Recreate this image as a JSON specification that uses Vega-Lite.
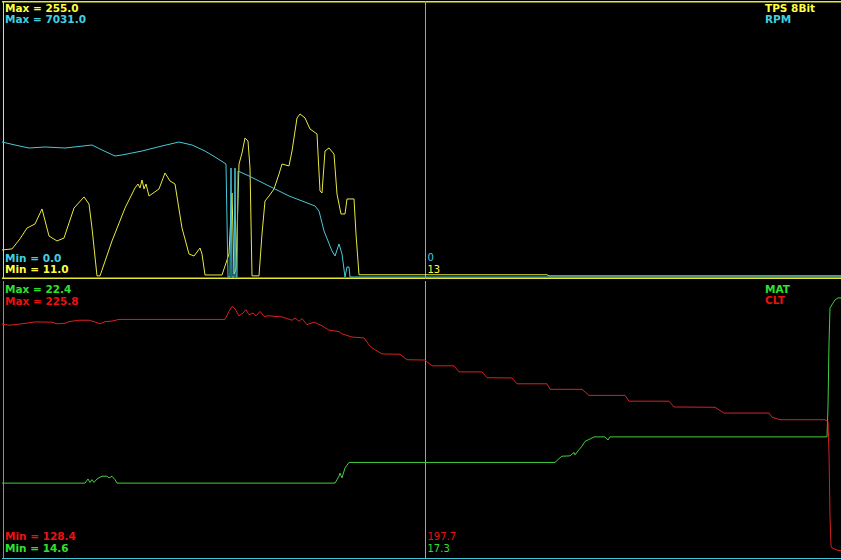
{
  "$schema": "https://vega.github.io/schema/vega-lite/v6.json",
  "background": "#000000",
  "padding": 0,
  "spacing": 0,
  "config": {"view": {"stroke": null}, "concat": {"spacing": 0}},
  "datasets": {
    "one": [{}],
    "tps": [
      {"t":0,"v":35.1},{"t":10,"v":36.0},{"t":18,"v":45},{"t":25,"v":54.6},{"t":33,"v":58.2},{"t":40,"v":71.6},{"t":47,"v":47.5},{"t":55,"v":43.1},{"t":62,"v":45.7},{"t":72,"v":72.4},{"t":82,"v":82.3},{"t":87,"v":76.0},{"t":90,"v":54.6},{"t":95,"v":12},{"t":98,"v":12},{"t":110,"v":43.1},{"t":123,"v":72.4},{"t":133,"v":90.3},{"t":136,"v":93.8},{"t":138,"v":90.3},{"t":140,"v":97.4},{"t":142,"v":89.4},{"t":144,"v":93.8},{"t":147,"v":83.1},{"t":157,"v":89.4},{"t":163,"v":103.6},{"t":168,"v":96.5},{"t":173,"v":93.8},{"t":180,"v":54.6},{"t":187,"v":31.5},{"t":192,"v":29.7},{"t":198,"v":36.8},{"t":200,"v":31.5},{"t":203,"v":12.8},{"t":220,"v":12.8},{"t":227,"v":31.5},{"t":230,"v":85.8},{"t":232,"v":13.7},{"t":234,"v":18.1},{"t":237,"v":111.6},{"t":240,"v":121.4},{"t":243,"v":134.8},{"t":246,"v":132.1},{"t":248,"v":108.1},{"t":250,"v":12},{"t":257,"v":12},{"t":260,"v":49.3},{"t":263,"v":78.7},{"t":267,"v":83.1},{"t":272,"v":89.4},{"t":277,"v":102.7},{"t":280,"v":111.6},{"t":287,"v":109.9},{"t":290,"v":123.2},{"t":295,"v":152.6},{"t":298,"v":156.2},{"t":303,"v":152.6},{"t":308,"v":142.8},{"t":315,"v":138.4},{"t":318,"v":87.6},{"t":320,"v":85.8},{"t":323,"v":123.2},{"t":327,"v":125.9},{"t":332,"v":120.5},{"t":335,"v":84.9},{"t":339,"v":67.1},{"t":343,"v":67.1},{"t":345,"v":80.5},{"t":352,"v":80.5},{"t":354,"v":49.3},{"t":357,"v":13},{"t":545,"v":13},{"t":547,"v":12},{"t":841,"v":12}
    ],
    "rpm": [
      {"t":0,"v":3464},{"t":13,"v":3387},{"t":27,"v":3310},{"t":43,"v":3336},{"t":63,"v":3310},{"t":90,"v":3387},{"t":100,"v":3259},{"t":113,"v":3105},{"t":120,"v":3131},{"t":140,"v":3233},{"t":160,"v":3362},{"t":177,"v":3464},{"t":190,"v":3387},{"t":203,"v":3233},{"t":213,"v":3080},{"t":224,"v":2900},{"t":226,"v":0},{"t":228,"v":0},{"t":229,"v":2797},{"t":230,"v":0},{"t":232,"v":0},{"t":233,"v":2797},{"t":234,"v":0},{"t":235,"v":0},{"t":236,"v":2720},{"t":247,"v":2592},{"t":267,"v":2335},{"t":287,"v":2079},{"t":313,"v":1822},{"t":317,"v":1694},{"t":322,"v":1181},{"t":330,"v":667},{"t":333,"v":539},{"t":337,"v":847},{"t":340,"v":590},{"t":343,"v":0},{"t":345,"v":257},{"t":347,"v":257},{"t":348,"v":0},{"t":841,"v":0}
    ],
    "mat": [
      {"t":0,"v":16.60},{"t":83,"v":16.60},{"t":86,"v":16.72},{"t":88,"v":16.62},{"t":90,"v":16.70},{"t":92,"v":16.62},{"t":95,"v":16.72},{"t":100,"v":16.80},{"t":105,"v":16.80},{"t":107,"v":16.75},{"t":110,"v":16.80},{"t":113,"v":16.70},{"t":115,"v":16.60},{"t":333,"v":16.60},{"t":337,"v":16.80},{"t":338,"v":16.89},{"t":340,"v":16.75},{"t":343,"v":17.04},{"t":347,"v":17.20},{"t":553,"v":17.20},{"t":557,"v":17.31},{"t":560,"v":17.38},{"t":568,"v":17.39},{"t":572,"v":17.49},{"t":573,"v":17.42},{"t":577,"v":17.57},{"t":580,"v":17.67},{"t":583,"v":17.81},{"t":588,"v":17.88},{"t":592,"v":17.94},{"t":603,"v":17.94},{"t":606,"v":17.85},{"t":608,"v":17.94},{"t":825,"v":17.94},{"t":826,"v":18.84},{"t":827,"v":20.66},{"t":828,"v":21.68},{"t":831,"v":21.82},{"t":833,"v":21.91},{"t":836,"v":21.97},{"t":841,"v":21.97}
    ],
    "clt": [
      {"t":0,"v":210.9},{"t":7,"v":210.5},{"t":20,"v":211.0},{"t":33,"v":211.7},{"t":50,"v":211.6},{"t":55,"v":211.0},{"t":63,"v":211.2},{"t":67,"v":211.8},{"t":77,"v":212.3},{"t":87,"v":212.3},{"t":92,"v":211.8},{"t":98,"v":211.0},{"t":103,"v":211.8},{"t":110,"v":212.0},{"t":117,"v":212.6},{"t":223,"v":212.6},{"t":227,"v":215.5},{"t":230,"v":217.3},{"t":233,"v":216.4},{"t":237,"v":213.9},{"t":241,"v":214.9},{"t":244,"v":216.1},{"t":247,"v":214.3},{"t":251,"v":214.9},{"t":254,"v":213.9},{"t":258,"v":215.5},{"t":262,"v":213.7},{"t":267,"v":213.9},{"t":273,"v":213.7},{"t":280,"v":213.5},{"t":290,"v":212.3},{"t":293,"v":213.1},{"t":297,"v":211.9},{"t":300,"v":212.9},{"t":305,"v":210.7},{"t":312,"v":211.6},{"t":320,"v":210.3},{"t":327,"v":208.7},{"t":337,"v":208.2},{"t":340,"v":207.4},{"t":350,"v":206.2},{"t":362,"v":205.9},{"t":367,"v":203.4},{"t":370,"v":202.3},{"t":380,"v":200.1},{"t":398,"v":200.0},{"t":405,"v":198.0},{"t":423,"v":197.9},{"t":430,"v":195.8},{"t":452,"v":195.8},{"t":457,"v":193.6},{"t":480,"v":193.6},{"t":485,"v":191.5},{"t":510,"v":191.4},{"t":515,"v":189.3},{"t":545,"v":189.3},{"t":548,"v":187.3},{"t":580,"v":187.3},{"t":587,"v":185.1},{"t":623,"v":185.1},{"t":627,"v":183.0},{"t":667,"v":183.0},{"t":672,"v":180.9},{"t":713,"v":180.8},{"t":722,"v":178.7},{"t":767,"v":178.7},{"t":770,"v":177.2},{"t":778,"v":176.3},{"t":823,"v":176.3},{"t":826,"v":175.7},{"t":827,"v":164.3},{"t":828,"v":141.4},{"t":829,"v":130.6},{"t":830,"v":129.9},{"t":835,"v":129.1},{"t":841,"v":128.8}
    ],
    "labelsTop": [
      {"label":"Max = 255.0","t":3,"v":247.4,"s":"TPS"},
      {"label":"Max = 7031.0","t":3,"v":237.6,"s":"RPM"},
      {"label":"TPS 8Bit","t":763,"v":247.4,"s":"TPS"},
      {"label":"RPM","t":763,"v":237.6,"s":"RPM"},
      {"label":"Min = 0.0","t":3,"v":24.6,"s":"RPM"},
      {"label":"Min = 11.0","t":3,"v":14.8,"s":"TPS"}
    ],
    "cursorTop": [
      {"label":"0","t":425.5,"v":25.3,"s":"RPM"},
      {"label":"13","t":425.5,"v":14.6,"s":"TPS"}
    ],
    "labelsBottom": [
      {"label":"Max = 22.4","t":3,"v":22.10,"s":"MAT"},
      {"label":"Max = 225.8","t":3,"v":21.77,"s":"CLT"},
      {"label":"MAT","t":763,"v":22.12,"s":"MAT"},
      {"label":"CLT","t":763,"v":21.79,"s":"CLT"},
      {"label":"Min = 128.4","t":3,"v":14.94,"s":"CLT"},
      {"label":"Min = 14.6","t":3,"v":14.59,"s":"MAT"}
    ],
    "cursorBottom": [
      {"label":"197.7","t":425.5,"v":14.94,"s":"CLT"},
      {"label":"17.3","t":425.5,"v":14.59,"s":"MAT"}
    ]
  },
  "vconcat": [
    {
      "width": 841,
      "height": 278,
      "resolve": {"scale": {"y": "independent"}},
      "layer": [
        {
          "data": {"name": "one"},
          "mark": {"type": "rule", "color": "#e8e830", "strokeWidth": 1},
          "encoding": {"x": {"datum": 1.5, "type": "quantitative", "scale": {"domain": [0, 841], "nice": false, "zero": false}, "axis": null}}
        },
        {
          "data": {"name": "one"},
          "mark": {"type": "rule", "color": "#e8e830", "strokeWidth": 1.5},
          "encoding": {"y": {"datum": 256.1, "type": "quantitative", "scale": {"domain": [9.22, 256.78], "nice": false, "zero": false}, "axis": null}}
        },
        {
          "data": {"name": "one"},
          "mark": {"type": "rule", "color": "#e8e830", "strokeWidth": 1.5},
          "encoding": {"y": {"datum": 9.9, "type": "quantitative", "scale": {"domain": [9.22, 256.78], "nice": false, "zero": false}, "axis": null}}
        },
        {
          "data": {"name": "one"},
          "mark": {"type": "rule", "color": "#40c8d8", "strokeWidth": 1},
          "encoding": {"x": {"datum": 423.5, "type": "quantitative", "scale": {"domain": [0, 841], "nice": false, "zero": false}, "axis": null}}
        },
        {
          "data": {"name": "tps"},
          "mark": {"type": "line", "color": "#e8e840", "strokeWidth": 1},
          "encoding": {
            "x": {"field": "t", "type": "quantitative", "scale": {"domain": [0, 841], "nice": false, "zero": false}, "axis": null},
            "y": {"field": "v", "type": "quantitative", "scale": {"domain": [9.22, 256.78], "nice": false, "zero": false}, "axis": null}
          }
        },
        {
          "data": {"name": "rpm"},
          "mark": {"type": "line", "color": "#48c8d8", "strokeWidth": 1},
          "encoding": {
            "x": {"field": "t", "type": "quantitative", "scale": {"domain": [0, 841], "nice": false, "zero": false}, "axis": null},
            "y": {"field": "v", "type": "quantitative", "scale": {"domain": [-51.3, 7082.3], "nice": false, "zero": false}, "axis": null}
          }
        },
        {
          "data": {"name": "labelsTop"},
          "mark": {"type": "text", "font": "DejaVu Sans", "fontWeight": "bold", "fontSize": 10.5, "align": "left", "baseline": "alphabetic"},
          "encoding": {
            "x": {"field": "t", "type": "quantitative", "scale": {"domain": [0, 841], "nice": false, "zero": false}, "axis": null},
            "y": {"field": "v", "type": "quantitative", "scale": {"domain": [9.22, 256.78], "nice": false, "zero": false}, "axis": null},
            "text": {"field": "label"},
            "color": {"field": "s", "type": "nominal", "scale": {"domain": ["TPS", "RPM", "MAT", "CLT"], "range": ["#ffff40", "#40d0e0", "#30e030", "#ee1010"]}, "legend": null}
          }
        },
        {
          "data": {"name": "cursorTop"},
          "mark": {"type": "text", "font": "DejaVu Sans", "fontSize": 10, "align": "left", "baseline": "alphabetic"},
          "encoding": {
            "x": {"field": "t", "type": "quantitative", "scale": {"domain": [0, 841], "nice": false, "zero": false}, "axis": null},
            "y": {"field": "v", "type": "quantitative", "scale": {"domain": [9.22, 256.78], "nice": false, "zero": false}, "axis": null},
            "text": {"field": "label"},
            "color": {"field": "s", "type": "nominal", "scale": {"domain": ["TPS", "RPM", "MAT", "CLT"], "range": ["#ffff40", "#40d0e0", "#30e030", "#ee1010"]}, "legend": null}
          }
        }
      ]
    },
    {
      "width": 841,
      "height": 282,
      "resolve": {"scale": {"y": "independent"}},
      "layer": [
        {
          "data": {"name": "one"},
          "mark": {"type": "rule", "color": "#30d030", "strokeWidth": 1},
          "encoding": {
            "x": {"datum": 1.5, "type": "quantitative", "scale": {"domain": [0, 841], "nice": false, "zero": false}, "axis": null},
            "y": {"datum": 22.46, "type": "quantitative", "scale": {"domain": [14.284, 22.46], "nice": false, "zero": false}, "axis": null},
            "y2": {"datum": 14.414}
          }
        },
        {
          "data": {"name": "one"},
          "mark": {"type": "rule", "color": "#40c8d8", "strokeWidth": 1},
          "encoding": {
            "x": {"datum": 423.5, "type": "quantitative", "scale": {"domain": [0, 841], "nice": false, "zero": false}, "axis": null},
            "y": {"datum": 22.46, "type": "quantitative", "scale": {"domain": [14.284, 22.46], "nice": false, "zero": false}, "axis": null},
            "y2": {"datum": 14.414}
          }
        },
        {
          "data": {"name": "one"},
          "mark": {"type": "rule", "color": "#40c8d8", "strokeWidth": 1},
          "encoding": {"y": {"datum": 14.414, "type": "quantitative", "scale": {"domain": [14.284, 22.46], "nice": false, "zero": false}, "axis": null}}
        },
        {
          "data": {"name": "mat"},
          "mark": {"type": "line", "color": "#40d040", "strokeWidth": 1},
          "encoding": {
            "x": {"field": "t", "type": "quantitative", "scale": {"domain": [0, 841], "nice": false, "zero": false}, "axis": null},
            "y": {"field": "v", "type": "quantitative", "scale": {"domain": [14.284, 22.46], "nice": false, "zero": false}, "axis": null}
          }
        },
        {
          "data": {"name": "clt"},
          "mark": {"type": "line", "color": "#d82020", "strokeWidth": 1},
          "encoding": {
            "x": {"field": "t", "type": "quantitative", "scale": {"domain": [0, 841], "nice": false, "zero": false}, "axis": null},
            "y": {"field": "v", "type": "quantitative", "scale": {"domain": [124.44, 226.5], "nice": false, "zero": false}, "axis": null}
          }
        },
        {
          "data": {"name": "labelsBottom"},
          "mark": {"type": "text", "font": "DejaVu Sans", "fontWeight": "bold", "fontSize": 10.5, "align": "left", "baseline": "alphabetic"},
          "encoding": {
            "x": {"field": "t", "type": "quantitative", "scale": {"domain": [0, 841], "nice": false, "zero": false}, "axis": null},
            "y": {"field": "v", "type": "quantitative", "scale": {"domain": [14.284, 22.46], "nice": false, "zero": false}, "axis": null},
            "text": {"field": "label"},
            "color": {"field": "s", "type": "nominal", "scale": {"domain": ["TPS", "RPM", "MAT", "CLT"], "range": ["#ffff40", "#40d0e0", "#30e030", "#ee1010"]}, "legend": null}
          }
        },
        {
          "data": {"name": "cursorBottom"},
          "mark": {"type": "text", "font": "DejaVu Sans", "fontSize": 10, "align": "left", "baseline": "alphabetic"},
          "encoding": {
            "x": {"field": "t", "type": "quantitative", "scale": {"domain": [0, 841], "nice": false, "zero": false}, "axis": null},
            "y": {"field": "v", "type": "quantitative", "scale": {"domain": [14.284, 22.46], "nice": false, "zero": false}, "axis": null},
            "text": {"field": "label"},
            "color": {"field": "s", "type": "nominal", "scale": {"domain": ["TPS", "RPM", "MAT", "CLT"], "range": ["#ffff40", "#40d0e0", "#30e030", "#ee1010"]}, "legend": null}
          }
        }
      ]
    }
  ]
}
